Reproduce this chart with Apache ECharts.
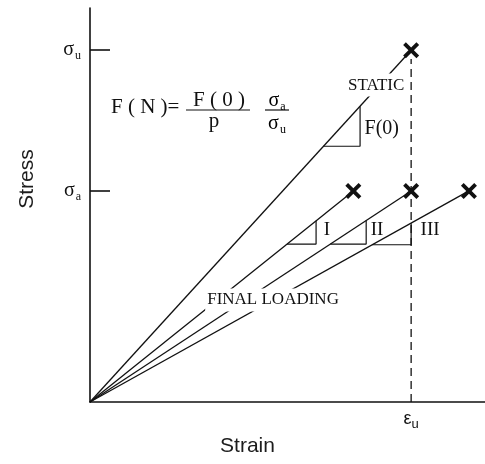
<!DOCTYPE html>
<html>
<head>
<meta charset="utf-8">
<script src="https://cdn.jsdelivr.net/npm/echarts@6/dist/echarts.min.js"></script>
<style>
  html, body { margin: 0; padding: 0; background: #ffffff; }
  #chart { width: 485px; height: 464px; }
</style>
</head>
<body>
<div id="chart"></div>
<script>
// Stress levels, normalised by the ultimate stress
const sigmaU = 1.0;
const sigmaA = 0.6;
// Ultimate strain, normalised
const epsU = 1.0;

// Loading curves: static test and the three final loadings
const curveNames = ['STATIC', 'I', 'II', 'III'];
const failureStrain = [1.0, 0.82, 1.0, 1.18];
const failureStress = [1.0, 0.6, 0.6, 0.6];

// Slope triangles: stress of the horizontal leg, strain of the vertical leg
const triangleBase = [0.727, 0.449, 0.449, 0.447];
const triangleRight = [0.841, 0.704, 0.86, 1.0];

// Axis extents
const strainMax = 1.23;
const stressMax = 1.12;
const dashTop = 0.975;

const ink = '#111111';
const serif = '"Liberation Serif", "Times New Roman", serif';
const sans = '"Liberation Sans", Arial, sans-serif';

// Text annotations, anchored in data coordinates
const annotations = [
  { text: 'STATIC', at: [0.891, 0.901], size: 17, align: 'center', mask: true },
  { text: 'FINAL LOADING', at: [0.570, 0.290], size: 17, align: 'center', mask: true },
  { text: 'F(0)', at: [0.855, 0.776], size: 20, align: 'left', mask: false },
  { text: 'I', at: [0.738, 0.488], size: 19, align: 'center', mask: false },
  { text: 'II', at: [0.894, 0.488], size: 19, align: 'center', mask: false },
  { text: 'III', at: [1.059, 0.488], size: 19, align: 'center', mask: false }
];

// Subscripted symbol styles
const symRich = {
  s: { fontFamily: serif, fontSize: 20, color: ink, lineHeight: 20, verticalAlign: 'top' },
  b: { fontFamily: serif, fontSize: 12, color: ink, lineHeight: 14, padding: [10, 0, 0, 1], verticalAlign: 'top' }
};

const crossPath = 'path://M0,1.7L1.7,0L5,3.3L8.3,0L10,1.7L6.7,5L10,8.3L8.3,10L5,6.7L1.7,10L0,8.3L3.3,5Z';

const series = [];

// Straight loading lines from the origin to each failure point
curveNames.forEach((name, i) => {
  series.push({
    name: name,
    type: 'line',
    data: [[0, 0], [failureStrain[i], failureStress[i]]],
    symbol: 'none',
    lineStyle: { color: ink, width: 1.3 },
    z: 2,
    silent: true
  });
});

// Slope triangles (horizontal and vertical legs) on each line
curveNames.forEach((name, i) => {
  const slope = failureStress[i] / failureStrain[i];
  const base = triangleBase[i];
  const right = triangleRight[i];
  series.push({
    name: name + ' slope',
    type: 'line',
    data: [[base / slope, base], [right, base], [right, right * slope]],
    symbol: 'none',
    lineStyle: { color: ink, width: 1.2 },
    z: 2,
    silent: true
  });
});

// Ultimate strain marker
series.push({
  name: 'ultimate strain',
  type: 'line',
  data: [[epsU, 0], [epsU, dashTop]],
  symbol: 'none',
  lineStyle: { color: ink, width: 1.3, type: [8, 5] },
  z: 2,
  silent: true
});

// Failure points
series.push({
  name: 'failure',
  type: 'scatter',
  data: failureStrain.map((x, i) => [x, failureStress[i]]),
  symbol: crossPath,
  symbolSize: 16,
  itemStyle: { color: ink, opacity: 1 },
  z: 5,
  silent: true
});

// Annotation labels
series.push({
  name: 'annotations',
  type: 'scatter',
  symbolSize: 0,
  itemStyle: { opacity: 1 },
  z: 10,
  silent: true,
  data: annotations.map(a => ({
    value: a.at,
    label: {
      show: true,
      position: 'inside',
      formatter: a.text,
      fontFamily: serif,
      fontSize: a.size,
      color: ink,
      align: a.align,
      verticalAlign: 'middle',
      backgroundColor: a.mask ? '#ffffff' : 'transparent',
      padding: a.mask ? [3, 2] : 0
    }
  }))
});

const chart = echarts.init(document.getElementById('chart'), null, { renderer: 'canvas' });

chart.setOption({
  animation: false,
  backgroundColor: '#ffffff',
  grid: { left: 90, right: 0, top: 8, bottom: 62 },
  xAxis: {
    type: 'value',
    min: 0,
    max: strainMax,
    axisLine: { show: true, lineStyle: { color: ink, width: 1.6 } },
    axisTick: { show: false },
    splitLine: { show: false },
    axisLabel: {
      customValues: [epsU],
      margin: 8,
      formatter: () => '{s|ε}{b|u}',
      rich: {
        s: { fontFamily: sans, fontSize: 18, color: ink, lineHeight: 18, verticalAlign: 'top' },
        b: { fontFamily: sans, fontSize: 13, color: ink, lineHeight: 14, padding: [8, 0, 0, 0], verticalAlign: 'top' }
      }
    },
    name: 'Strain',
    nameLocation: 'middle',
    nameGap: 31,
    nameTextStyle: { fontFamily: sans, fontSize: 21, color: '#1c1c1c', padding: [0, 80, 0, 0] }
  },
  yAxis: {
    type: 'value',
    min: 0,
    max: stressMax,
    axisLine: { show: true, lineStyle: { color: ink, width: 1.6 } },
    axisTick: {
      show: true,
      inside: true,
      length: 20,
      customValues: [sigmaA, sigmaU],
      lineStyle: { color: ink, width: 1.6 }
    },
    splitLine: { show: false },
    axisLabel: {
      customValues: [sigmaA, sigmaU],
      margin: 9,
      formatter: v => (v === sigmaU ? '{s|σ}{b|u}' : '{s|σ}{b|a}'),
      rich: symRich
    },
    name: 'Stress',
    nameLocation: 'middle',
    nameGap: 52,
    nameRotate: 90,
    nameTextStyle: { fontFamily: sans, fontSize: 21, color: '#1c1c1c', padding: [0, 0, 0, 52] }
  },
  // Fatigue modulus relation
  graphic: [
    { type: 'text', x: 111, y: 107, z: 20,
      style: { text: 'F ( N )=', font: '21px ' + serif, fill: ink, verticalAlign: 'middle' } },
    { type: 'line', z: 20, shape: { x1: 186, y1: 110, x2: 250, y2: 110 },
      style: { stroke: ink, lineWidth: 1.2 } },
    { type: 'text', x: 219, y: 100, z: 20,
      style: { text: 'F ( 0 )', font: '21px ' + serif, fill: ink, align: 'center', verticalAlign: 'middle' } },
    { type: 'text', x: 214, y: 121, z: 20,
      style: { text: 'p', font: '21px ' + serif, fill: ink, align: 'center', verticalAlign: 'middle' } },
    { type: 'line', z: 20, shape: { x1: 265, y1: 110, x2: 289, y2: 110 },
      style: { stroke: ink, lineWidth: 1.2 } },
    { type: 'text', x: 277, y: 101, z: 20,
      style: { text: '{s|σ}{b|a}', rich: symRich, align: 'center', verticalAlign: 'middle' } },
    { type: 'text', x: 277, y: 124, z: 20,
      style: { text: '{s|σ}{b|u}', rich: symRich, align: 'center', verticalAlign: 'middle' } }
  ],
  series: series
});
</script>
</body>
</html>
